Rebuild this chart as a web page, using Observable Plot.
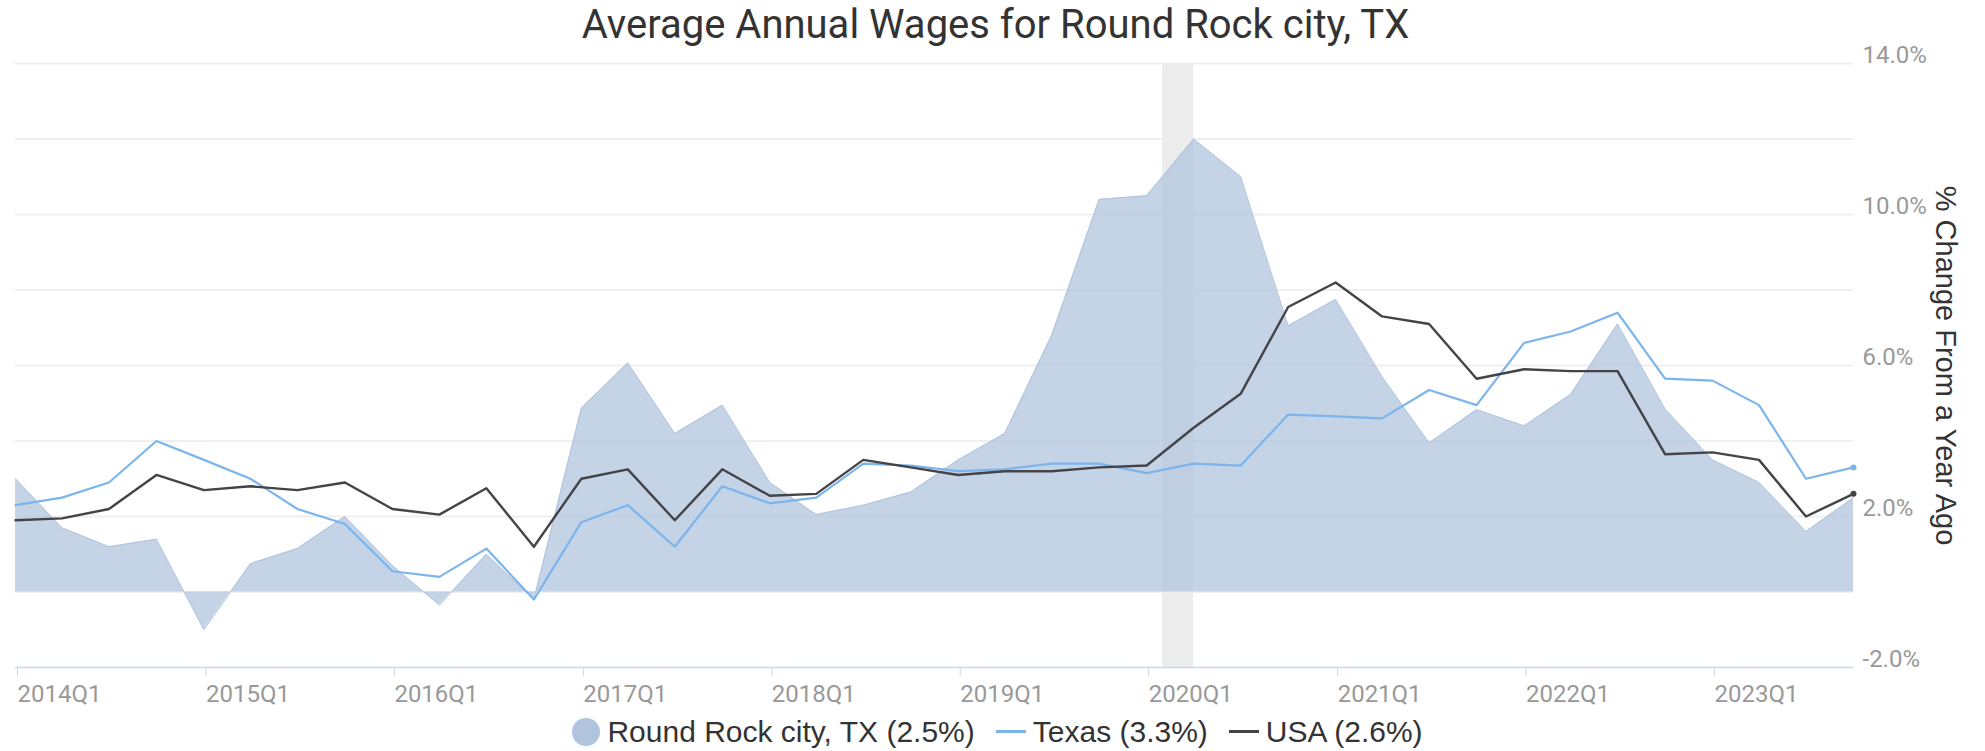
<!DOCTYPE html>
<html>
<head>
<meta charset="utf-8">
<script src="https://cdn.jsdelivr.net/npm/d3@7"></script>
<script src="https://cdn.jsdelivr.net/npm/@observablehq/plot@0.6"></script>
<style>
  html, body { margin: 0; padding: 0; background: #fff; }
  #wrap { width: 1985px; height: 751px; overflow: hidden; }
  #title { height: 44px; line-height: 50px; text-align: center; font-family: Roboto, sans-serif; font-size: 40px; color: #333; white-space: nowrap; padding-left: 6px; }
  #legend { height: 39px; display: flex; justify-content: center; align-items: center; font-family: "Liberation Sans", Arial, sans-serif; font-size: 30px; color: #333; padding-left: 10px; }
  .item { display: flex; align-items: center; white-space: nowrap; }
  .circ { width: 28px; height: 28px; border-radius: 50%; background: #b0c4de; margin-right: 7px; }
  .ln { width: 30px; height: 2.5px; margin-right: 7px; }
</style>
</head>
<body>
<div id="wrap">
  <div id="title">Average Annual Wages for Round Rock city, TX</div>
  <div id="chart"></div>
  <div id="legend"></div>
</div>
<script>
const quarters = [
  "2014Q1","2014Q2","2014Q3","2014Q4","2015Q1","2015Q2","2015Q3","2015Q4",
  "2016Q1","2016Q2","2016Q3","2016Q4","2017Q1","2017Q2","2017Q3","2017Q4",
  "2018Q1","2018Q2","2018Q3","2018Q4","2019Q1","2019Q2","2019Q3","2019Q4",
  "2020Q1","2020Q2","2020Q3","2020Q4","2021Q1","2021Q2","2021Q3","2021Q4",
  "2022Q1","2022Q2","2022Q3","2022Q4","2023Q1","2023Q2","2023Q3","2023Q4"
];
const roundRock = [3.0,1.7,1.2,1.4,-1.0,0.75,1.15,2.0,0.7,-0.35,1.0,-0.2,4.87,6.07,4.2,4.95,2.9,2.05,2.3,2.65,3.5,4.2,6.8,10.4,10.5,12.0,11.0,7.05,7.75,5.7,3.95,4.83,4.4,5.23,7.1,4.85,3.5,2.9,1.6,2.5];
const texas = [2.3,2.5,2.9,4.0,3.5,3.0,2.2,1.8,0.55,0.4,1.15,-0.2,1.85,2.3,1.2,2.8,2.35,2.5,3.4,3.35,3.2,3.25,3.4,3.4,3.15,3.4,3.35,4.7,4.65,4.6,5.35,4.95,6.6,6.9,7.4,5.65,5.6,4.95,3.0,3.3];
const usa = [1.9,1.95,2.2,3.1,2.7,2.8,2.7,2.9,2.2,2.05,2.75,1.2,3.0,3.25,1.9,3.25,2.55,2.6,3.5,3.3,3.1,3.2,3.2,3.3,3.35,4.35,5.25,7.55,8.2,7.3,7.1,5.65,5.9,5.85,5.85,3.65,3.7,3.5,2.0,2.6];
const yGrid = [0, 2, 4, 6, 8, 10, 12, 14];
const yLabels = [-2, 2, 6, 10, 14];
const recession = [{start: "2020-02-01", end: "2020-04-01"}];
const seriesNames = ["Round Rock city, TX (2.5%)", "Texas (3.3%)", "USA (2.6%)"];
const seriesColors = ["#b0c4de", "#7cb5ec", "#434348"];
const yTitle = "% Change From a Year Ago";

const parseQ = q => new Date(Date.UTC(+q.slice(0, 4), (+q[5] - 1) * 3, 1));
const rows = quarters.map((q, i) => ({q, date: parseQ(q), rr: roundRock[i], tx: texas[i], us: usa[i]}));
const last = [rows[rows.length - 1]];
const xTicks = quarters.filter(q => q.endsWith("Q1")).map(parseQ);
const band = recession.map(r => ({x1: new Date(r.start + "T00:00:00Z"), x2: new Date(r.end + "T00:00:00Z")}));

const chart = Plot.plot({
  width: 1985,
  height: 668,
  marginLeft: 15,
  marginRight: 132,
  marginTop: 19,
  marginBottom: 45,
  style: {fontFamily: "Roboto, sans-serif", background: "white", overflow: "visible"},
  x: {type: "utc", domain: [rows[0].date, rows[rows.length - 1].date]},
  y: {domain: [-2, 14]},
  marks: [
    Plot.ruleY(yGrid, {stroke: "#efefef", strokeWidth: 2}),
    Plot.rect(band, {x1: "x1", x2: "x2", y1: -2, y2: 14, fill: "#ececec"}),
    Plot.areaY(rows, {x: "date", y: "rr", fill: seriesColors[0], fillOpacity: 0.75}),
    Plot.lineY(rows, {x: "date", y: "rr", stroke: seriesColors[0], strokeWidth: 1}),
    Plot.lineY(rows, {x: "date", y: "tx", stroke: seriesColors[1], strokeWidth: 2.2}),
    Plot.lineY(rows, {x: "date", y: "us", stroke: seriesColors[2], strokeWidth: 2.4}),
    Plot.dot(last, {x: "date", y: "tx", r: 3, fill: seriesColors[1]}),
    Plot.dot(last, {x: "date", y: "us", r: 3, fill: seriesColors[2]}),
    Plot.ruleY([-2], {stroke: "#ccd6eb", strokeWidth: 1.5}),
    Plot.axisX({ticks: xTicks, tickFormat: d => `${d.getUTCFullYear()}Q1`, tickSize: 9, tickPadding: 8,
      textAnchor: "start", dx: 2, stroke: "#ccd6eb", fill: "#999", fontSize: 24, label: null}),
    Plot.axisY({anchor: "right", ticks: yLabels, tickFormat: d => d.toFixed(1) + "%", tickSize: 0, tickPadding: 9,
      dy: -8, fill: "#999", fontSize: 24, label: null}),
    Plot.text([yTitle], {frameAnchor: "right", textAnchor: "middle", dx: 92, rotate: 90, fontSize: 29,
      fontFamily: "Liberation Sans, Arial, sans-serif", fill: "#333"})
  ]
});
document.getElementById("chart").appendChild(chart);

const legend = document.getElementById("legend");
seriesNames.forEach((name, i) => {
  const item = document.createElement("div");
  item.className = "item";
  item.style.marginRight = i < seriesNames.length - 1 ? "21px" : "0";
  const sym = document.createElement("div");
  if (i === 0) { sym.className = "circ"; }
  else { sym.className = "ln"; sym.style.background = seriesColors[i]; }
  item.appendChild(sym);
  const t = document.createElement("span");
  t.textContent = name;
  item.appendChild(t);
  legend.appendChild(item);
});
</script>
</body>
</html>
